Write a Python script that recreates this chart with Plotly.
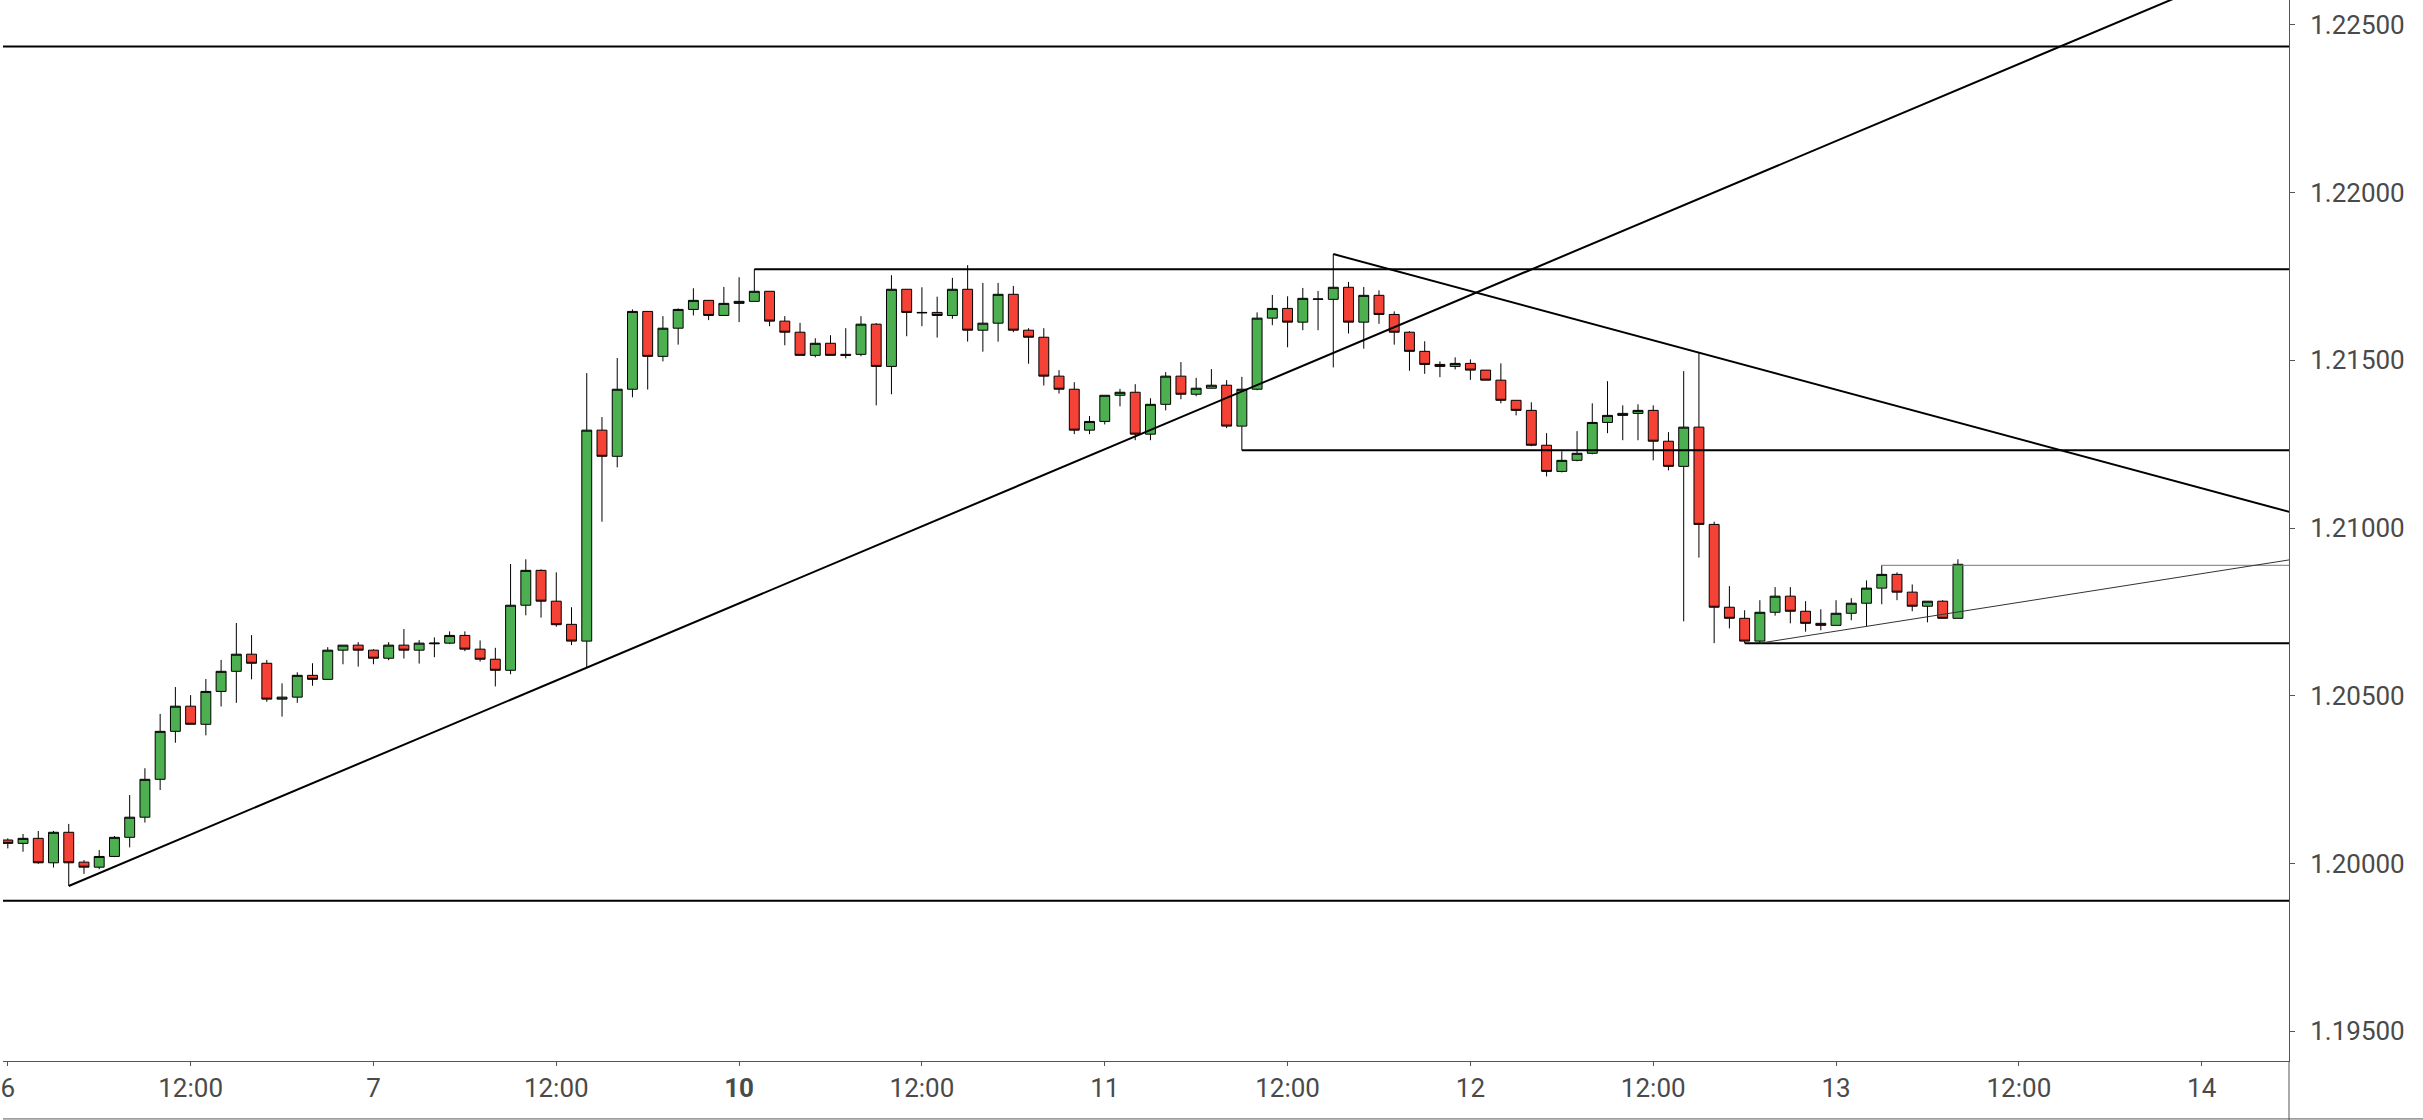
import plotly.graph_objects as go

# ---------------- data (hourly candles, hour index with weekend removed) ----------------
hours = list(range(129))

open_ = [
    1.20070, 1.20060, 1.20075, 1.20002, 1.20093, 1.20004, 1.19989, 1.20021, 1.20078, 1.20138,
    1.20251, 1.20394, 1.20469, 1.20415, 1.20513, 1.20573, 1.20624, 1.20597, 1.20490, 1.20496,
    1.20561, 1.20549, 1.20636, 1.20651, 1.20636, 1.20612, 1.20651, 1.20636, 1.20655, 1.20657,
    1.20680, 1.20639, 1.20609, 1.20576, 1.20770, 1.20874, 1.20782, 1.20713, 1.20663, 1.21292,
    1.21214, 1.21414, 1.21646, 1.21512, 1.21596, 1.21652, 1.21679, 1.21634, 1.21670, 1.21676,
    1.21706, 1.21617, 1.21584, 1.21515, 1.21551, 1.21518, 1.21518, 1.21608, 1.21482, 1.21712,
    1.21643, 1.21643, 1.21634, 1.21712, 1.21590, 1.21611, 1.21697, 1.21590, 1.21569, 1.21453,
    1.21414, 1.21292, 1.21318, 1.21396, 1.21405, 1.21280, 1.21369, 1.21453, 1.21399, 1.21417,
    1.21426, 1.21304, 1.21414, 1.21626, 1.21655, 1.21614, 1.21682, 1.21682, 1.21718, 1.21614,
    1.21694, 1.21637, 1.21584, 1.21527, 1.21488, 1.21482, 1.21491, 1.21471, 1.21441, 1.21381,
    1.21351, 1.21247, 1.21169, 1.21202, 1.21223, 1.21315, 1.21336, 1.21342, 1.21351, 1.21259,
    1.21184, 1.21301, 1.21011, 1.20764, 1.20731, 1.20663, 1.20749, 1.20797, 1.20752, 1.20716,
    1.20710, 1.20746, 1.20776, 1.20821, 1.20862, 1.20809, 1.20767, 1.20782, 1.20731,
]
high = [
    1.20075, 1.20088, 1.20097, 1.20097, 1.20118, 1.20010, 1.20040, 1.20082, 1.20204, 1.20284,
    1.20446, 1.20526, 1.20502, 1.20550, 1.20607, 1.20717, 1.20681, 1.20607, 1.20537, 1.20570,
    1.20597, 1.20645, 1.20651, 1.20660, 1.20639, 1.20660, 1.20699, 1.20666, 1.20674, 1.20692,
    1.20692, 1.20665, 1.20643, 1.20893, 1.20907, 1.20877, 1.20868, 1.20764, 1.21462, 1.21331,
    1.21507, 1.21652, 1.21646, 1.21632, 1.21655, 1.21715, 1.21679, 1.21719, 1.21748, 1.21772,
    1.21706, 1.21632, 1.21612, 1.21566, 1.21575, 1.21596, 1.21632, 1.21611, 1.21754, 1.21712,
    1.21718, 1.21690, 1.21746, 1.21784, 1.21731, 1.21731, 1.21722, 1.21596, 1.21596, 1.21471,
    1.21435, 1.21334, 1.21396, 1.21415, 1.21429, 1.21387, 1.21465, 1.21495, 1.21448, 1.21474,
    1.21441, 1.21451, 1.21643, 1.21695, 1.21691, 1.21716, 1.21707, 1.21817, 1.21734, 1.21719,
    1.21709, 1.21646, 1.21587, 1.21557, 1.21497, 1.21509, 1.21503, 1.21471, 1.21491, 1.21381,
    1.21375, 1.21283, 1.21229, 1.21289, 1.21372, 1.21438, 1.21366, 1.21369, 1.21366, 1.21286,
    1.21468, 1.21523, 1.21019, 1.20827, 1.20755, 1.20785, 1.20824, 1.20824, 1.20782, 1.20758,
    1.20785, 1.20791, 1.20844, 1.20889, 1.20868, 1.20832, 1.20782, 1.20785, 1.20907,
]
low = [
    1.20045, 1.20035, 1.19999, 1.19988, 1.19933, 1.19969, 1.19983, 1.20019, 1.20048, 1.20122,
    1.20219, 1.20360, 1.20415, 1.20382, 1.20468, 1.20479, 1.20549, 1.20482, 1.20438, 1.20479,
    1.20530, 1.20549, 1.20594, 1.20587, 1.20594, 1.20606, 1.20611, 1.20596, 1.20615, 1.20654,
    1.20633, 1.20602, 1.20528, 1.20564, 1.20740, 1.20733, 1.20706, 1.20651, 1.20584, 1.21019,
    1.21181, 1.21390, 1.21413, 1.21497, 1.21547, 1.21634, 1.21620, 1.21634, 1.21614, 1.21676,
    1.21602, 1.21545, 1.21515, 1.21509, 1.21515, 1.21506, 1.21512, 1.21366, 1.21399, 1.21572,
    1.21602, 1.21568, 1.21624, 1.21556, 1.21526, 1.21556, 1.21584, 1.21490, 1.21425, 1.21401,
    1.21280, 1.21280, 1.21309, 1.21363, 1.21262, 1.21262, 1.21351, 1.21384, 1.21393, 1.21417,
    1.21298, 1.21232, 1.21411, 1.21605, 1.21539, 1.21590, 1.21590, 1.21479, 1.21580, 1.21535,
    1.21609, 1.21547, 1.21469, 1.21460, 1.21450, 1.21473, 1.21442, 1.21441, 1.21372, 1.21336,
    1.21244, 1.21154, 1.21166, 1.21199, 1.21220, 1.21283, 1.21262, 1.21262, 1.21202, 1.21172,
    1.20722, 1.20912, 1.20657, 1.20701, 1.20657, 1.20657, 1.20739, 1.20716, 1.20691, 1.20695,
    1.20710, 1.20725, 1.20707, 1.20773, 1.20785, 1.20752, 1.20719, 1.20731, 1.20731,
]
close = [
    1.20060, 1.20075, 1.20002, 1.20093, 1.20002, 1.19989, 1.20021, 1.20078, 1.20138, 1.20251,
    1.20394, 1.20469, 1.20415, 1.20513, 1.20573, 1.20624, 1.20597, 1.20490, 1.20496, 1.20561,
    1.20549, 1.20636, 1.20651, 1.20636, 1.20612, 1.20651, 1.20636, 1.20657, 1.20657, 1.20680,
    1.20639, 1.20609, 1.20576, 1.20770, 1.20874, 1.20782, 1.20712, 1.20663, 1.21292, 1.21214,
    1.21414, 1.21646, 1.21512, 1.21596, 1.21652, 1.21679, 1.21634, 1.21670, 1.21676, 1.21706,
    1.21617, 1.21584, 1.21515, 1.21551, 1.21515, 1.21515, 1.21608, 1.21482, 1.21712, 1.21643,
    1.21642, 1.21634, 1.21712, 1.21590, 1.21611, 1.21697, 1.21590, 1.21569, 1.21453, 1.21414,
    1.21292, 1.21318, 1.21396, 1.21405, 1.21280, 1.21369, 1.21453, 1.21399, 1.21417, 1.21426,
    1.21304, 1.21414, 1.21626, 1.21655, 1.21614, 1.21685, 1.21683, 1.21718, 1.21614, 1.21694,
    1.21637, 1.21584, 1.21527, 1.21488, 1.21482, 1.21491, 1.21471, 1.21441, 1.21381, 1.21351,
    1.21247, 1.21169, 1.21202, 1.21223, 1.21315, 1.21336, 1.21342, 1.21351, 1.21259, 1.21184,
    1.21301, 1.21011, 1.20764, 1.20731, 1.20663, 1.20749, 1.20797, 1.20752, 1.20716, 1.20710,
    1.20746, 1.20776, 1.20821, 1.20862, 1.20809, 1.20767, 1.20782, 1.20731, 1.20892,
]

# x-axis ticks (hour index) and labels
tick_hours = [0, 12, 24, 36, 48, 60, 72, 84, 96, 108, 120, 132, 144]
tick_labels = ["6", "12:00", "7", "12:00", "<b>10</b>", "12:00", "11", "12:00",
               "12", "12:00", "13", "12:00", "14"]

# y-axis ticks
price_ticks = [1.195, 1.200, 1.205, 1.210, 1.215, 1.220, 1.225]

# drawings: full-width horizontal levels
full_levels = [1.22436, 1.19889]
# horizontal rays: start hour and price
ray_start_hours = [49, 81, 114, 123]
ray_prices = [1.21772, 1.21232, 1.20657, 1.20889]
# trend lines: anchor candle indexes (extended to the right)
rise_anchor = (4, 38)        # through two lows
fall_anchor = (87, 111)      # through two highs
thin_anchor = (115, 122)     # through two lows

# ---------------- view / style ----------------
X_MIN, X_MAX = -0.315, 149.73
Y_MIN, Y_MAX = 1.194111, 1.225745
GREEN = "#4CAF50"
RED = "#F44336"
AXIS = "#555555"
FONT = "Roboto"

fig = go.Figure()
fig.add_trace(go.Candlestick(
    x=hours, open=open_, high=high, low=low, close=close,
    increasing=dict(fillcolor=GREEN, line=dict(color="black", width=1)),
    decreasing=dict(fillcolor=RED, line=dict(color="black", width=1)),
    whiskerwidth=0, showlegend=False, hoverinfo="skip",
))

shapes = []
for p in full_levels:
    shapes.append(dict(type="line", xref="x", yref="y", x0=X_MIN - 5, x1=X_MAX + 5,
                       y0=p, y1=p, line=dict(color="black", width=2), layer="above"))

ray_styles = [dict(color="black", width=2), dict(color="black", width=2),
              dict(color="black", width=2), dict(color="#777777", width=1)]
for h, p, st in zip(ray_start_hours, ray_prices, ray_styles):
    shapes.append(dict(type="line", xref="x", yref="y", x0=h, x1=X_MAX + 5,
                       y0=p, y1=p, line=st, layer="above"))


def extended(xa, ya, xb, yb, xe):
    s = (yb - ya) / (xb - xa)
    return ya + s * (xe - xa)


xe = X_MAX + 5
a, b = rise_anchor
shapes.append(dict(type="line", xref="x", yref="y", x0=a, y0=low[a], x1=xe,
                   y1=extended(a, low[a], b, low[b], xe),
                   line=dict(color="black", width=2), layer="above"))
a, b = fall_anchor
shapes.append(dict(type="line", xref="x", yref="y", x0=a, y0=high[a], x1=xe,
                   y1=extended(a, high[a], b, high[b], xe),
                   line=dict(color="black", width=2), layer="above"))
a, b = thin_anchor
shapes.append(dict(type="line", xref="x", yref="y", x0=a, y0=low[a], x1=xe,
                   y1=extended(a, low[a], b, low[b], xe),
                   line=dict(color="#333333", width=1), layer="above"))

# frame lines of the axis panes
shapes.append(dict(type="line", xref="paper", yref="paper", x0=1, x1=1, y0=0, y1=-0.06,
                   line=dict(color=AXIS, width=1)))
shapes.append(dict(type="line", xref="paper", yref="paper", x0=0, x1=1.06, y0=-0.0546, y1=-0.0546,
                   line=dict(color=AXIS, width=1)))

fig.update_layout(
    width=2423, height=1120,
    margin=dict(l=0, r=134, t=0, b=59),
    paper_bgcolor="white", plot_bgcolor="white",
    showlegend=False,
    boxgap=0.35, boxgroupgap=0,
    shapes=shapes,
    font=dict(family=FONT, size=26, color="#4a4a4a"),
    xaxis=dict(
        range=[X_MIN, X_MAX], tickmode="array", tickvals=tick_hours, ticktext=tick_labels,
        showgrid=False, zeroline=False, showline=True, linecolor=AXIS, linewidth=1,
        ticks="outside", ticklen=4, tickcolor=AXIS, tickwidth=1,
        rangeslider=dict(visible=False), ticklabeloverflow="allow",
        tickfont=dict(family=FONT, size=26, color="#4a4a4a"),
    ),
    yaxis=dict(
        range=[Y_MIN, Y_MAX], side="right", tickmode="array", tickvals=price_ticks,
        tickformat=".5f", showgrid=False, zeroline=False, showline=True,
        linecolor=AXIS, linewidth=1, ticks="outside", ticklen=5, tickcolor=AXIS,
        ticklabelstandoff=10,
        tickfont=dict(family=FONT, size=26, color="#4a4a4a"),
    ),
)

fig.write_html("out.html", config={"displayModeBar": False},
               post_script="document.body.style.margin='0';document.body.style.overflow='hidden';")
